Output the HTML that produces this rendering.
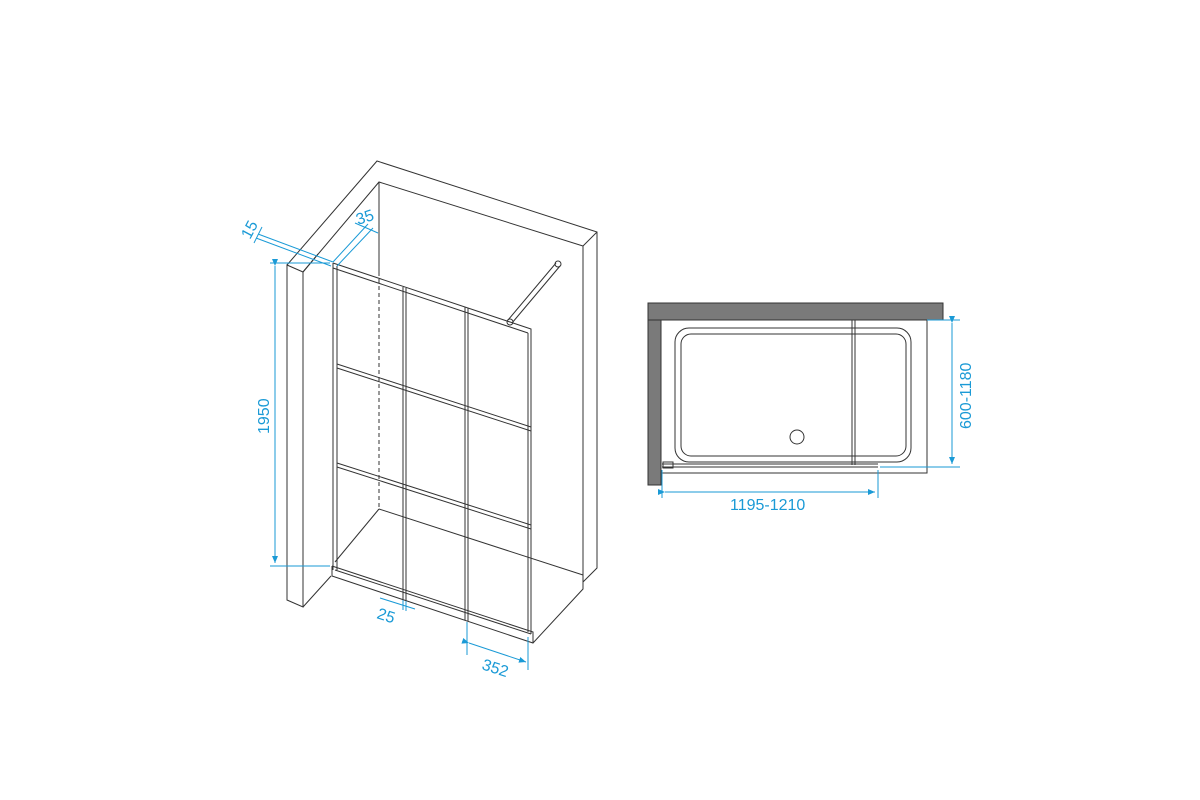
<!DOCTYPE html>
<html><head><meta charset="utf-8"><style>
html,body{margin:0;padding:0;background:#fff;}
svg{display:block}
text{font-family:"Liberation Sans",sans-serif;fill:#1a9ad6;font-size:16px}
</style></head><body>
<svg width="1200" height="800" viewBox="0 0 1200 800" xmlns="http://www.w3.org/2000/svg">
<defs>
<marker id="a" markerWidth="8" markerHeight="8" refX="7" refY="4" orient="auto" markerUnits="userSpaceOnUse"><path d="M0,1 L7,4 L0,7 Z" fill="#1a9ad6"/></marker>
</defs>
<g fill="none" stroke="#333" stroke-width="1">
<path d="M287,265 L377,161 L597,232 L597,568 L583,582"/>
<path d="M303,272 L379,182 L583,246 L583,582"/>
<path d="M597,232 L583,246"/>
<path d="M287,265 L303,272 L303,607 L287,600 Z"/>
<path d="M303,272 L318,254"/>
<path d="M303,607 L331,576"/>
<path d="M379,182 L379,272"/>
<path d="M379,272 L379,509" stroke-dasharray="4,3"/>
<path d="M379,509 L583,575"/>
<path d="M379,509 L335,562"/>
<path d="M332,566 L332,576 L533,643 L583,589 L583,580"/>
<path d="M332,566 L533,632 L533,643"/>
<path d="M335,570 L531,634"/>
<path d="M333,263 L531,329 L531,634"/>
<path d="M333,268 L528,333"/>
<path d="M333,263 L333,570"/>
<path d="M337,266 L337,570"/>
<path d="M528,333 L528,632"/>
<path d="M403,287 L403,600 M406,288 L406,601"/>
<path d="M465,307 L465,620 M468,308 L468,621"/>
<path d="M337,364 L531,427 M337,368 L531,431"/>
<path d="M337,463 L531,525 M337,467 L531,529"/>
<path d="M508,320 L556,263 M512,323 L560,266"/>
<circle cx="510" cy="322" r="3"/>
<circle cx="558" cy="264" r="3"/>
</g>
<g stroke="#1a9ad6" stroke-width="1" fill="none">
<path d="M270,263 L330,263 M270,566 L330,566"/>
<path d="M275,266 L275,563" marker-start="url(#a)" marker-end="url(#a)"/>
<path d="M258,234 L333,262 M256,238 L331,266"/>
<path d="M262,227 L254,243"/>
<path d="M333,262 L368,224 M337,266 L373,228"/>
<path d="M355,223 L378,233"/>
<path d="M403,600 L403,610 M406,601 L406,611 M380,598 L415,609"/>
<path d="M467,622 L467,655 M528,637 L528,670"/>
<path d="M469,643 L526,662" marker-start="url(#a)" marker-end="url(#a)"/>
</g>
<text transform="translate(269,434) rotate(-90)">1950</text>
<text transform="translate(250,240) rotate(-62)">15</text>
<text transform="translate(358,225) rotate(-18)">35</text>
<text transform="translate(376,618) rotate(18)">25</text>
<text transform="translate(481,669) rotate(18)">352</text>
<rect x="648" y="303" width="295" height="17" fill="#7a7a7a" stroke="#333"/>
<rect x="648" y="320" width="13" height="165" fill="#7a7a7a" stroke="#333"/>
<g fill="none" stroke="#333" stroke-width="1">
<path d="M661,320 L927,320 L927,473 L661,473"/>
<rect x="675" y="328" width="236" height="134" rx="14"/>
<rect x="681" y="334" width="225" height="122" rx="10"/>
<circle cx="797" cy="437" r="7"/>
<path d="M662,464 L878,464 M662,467 L878,467"/>
<rect x="663" y="462" width="10" height="6"/>
<path d="M852,320 L852,465 M855,320 L855,465"/>
</g>
<g stroke="#1a9ad6" stroke-width="1" fill="none">
<path d="M927,320 L960,320 M880,467 L960,467"/>
<path d="M952,323 L952,464" marker-start="url(#a)" marker-end="url(#a)"/>
<path d="M662,470 L662,498 M878,470 L878,498"/>
<path d="M665,492 L875,492" marker-start="url(#a)" marker-end="url(#a)"/>
</g>
<text transform="translate(971,429) rotate(-90)">600-1180</text>
<text x="730" y="510">1195-1210</text>
</svg>
</body></html>
